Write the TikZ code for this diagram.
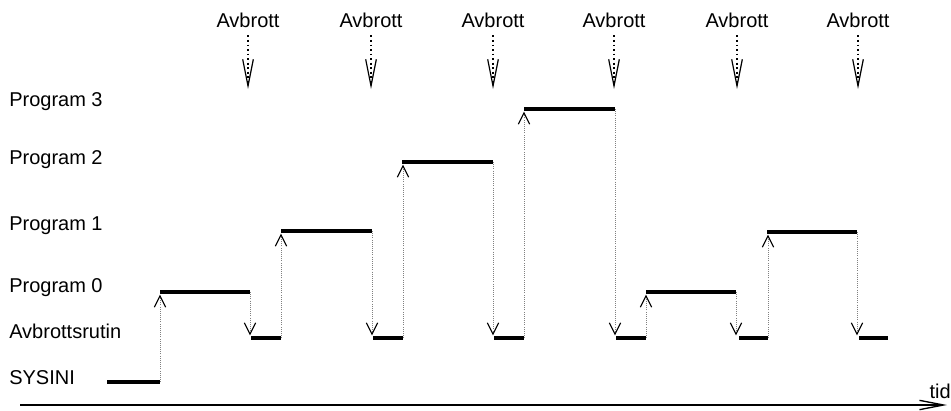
\documentclass[tikz,border=0pt]{standalone}
\usepackage{fontspec}
\setmainfont{Liberation Sans}
\usetikzlibrary{arrows.meta}

\begin{document}
\begin{tikzpicture}[
        x=0.75pt, y=-0.75pt,      % 1 unita = 1 pixel del riferimento
        font=\fontsize{15}{18}\selectfont,
        lvl/.style={anchor=base west, inner sep=0pt},   % nomi dei livelli
        irqtext/.style={anchor=base, inner sep=3pt},    % testo "Avbrott"
        bar/.style={line width=3pt},                    % tratto di esecuzione
        trans/.style={gray, line width=0.6pt, densely dotted,
            -{Straight Barb[length=8.5pt, width=8.5pt, color=black, line width=0.8pt]},
            shorten >=2pt},
        irq/.style={black, line width=1.4pt, dotted, shorten <=3pt,
            -{Straight Barb[length=20pt, width=8pt, line width=0.9pt]}},
        axis/.style={line width=1.4pt,
            -{Straight Barb[length=18pt, width=7pt, line width=1pt]}}
    ]
    \useasboundingbox (0,0) rectangle (951,411);

    % --- Livelli ---
    \node[lvl] (lbl-p3)  at (9,106) {Program 3};
    \node[lvl] (lbl-p2)  at (9,164) {Program 2};
    \node[lvl] (lbl-p1)  at (9,230) {Program 1};
    \node[lvl] (lbl-p0)  at (9,292) {Program 0};
    \node[lvl] (lbl-ar)  at (9,338) {Avbrottsrutin};
    \node[lvl] (lbl-sys) at (9,384) {SYSINI};

    % --- Avbrott ---
    \node[irqtext] (irq1) at (248,27) {Avbrott};
    \node[irqtext] (irq2) at (371,27) {Avbrott};
    \node[irqtext] (irq3) at (493,27) {Avbrott};
    \node[irqtext] (irq4) at (614,27) {Avbrott};
    \node[irqtext] (irq5) at (737,27) {Avbrott};
    \node[irqtext] (irq6) at (858,27) {Avbrott};
    \coordinate (tip1) at (248,89);
    \coordinate (tip2) at (371,89);
    \coordinate (tip3) at (493,89);
    \coordinate (tip4) at (614,89);
    \coordinate (tip5) at (737,89);
    \coordinate (tip6) at (858,89);
    \draw[irq] (irq1) -- (tip1);
    \draw[irq] (irq2) -- (tip2);
    \draw[irq] (irq3) -- (tip3);
    \draw[irq] (irq4) -- (tip4);
    \draw[irq] (irq5) -- (tip5);
    \draw[irq] (irq6) -- (tip6);

    % --- Tratti di esecuzione ---
    \coordinate (sys-a) at (107,382);  \coordinate (sys-b) at (160,382);
    \coordinate (p0a-a) at (160,292);  \coordinate (p0a-b) at (250,292);
    \coordinate (ar1-a) at (251,338);  \coordinate (ar1-b) at (281,338);
    \coordinate (p1a-a) at (281,231);  \coordinate (p1a-b) at (372,231);
    \coordinate (ar2-a) at (373,338);  \coordinate (ar2-b) at (403,338);
    \coordinate (p2-a)  at (402,162);  \coordinate (p2-b)  at (493,162);
    \coordinate (ar3-a) at (494,338);  \coordinate (ar3-b) at (524,338);
    \coordinate (p3-a)  at (524,109);  \coordinate (p3-b)  at (615,109);
    \coordinate (ar4-a) at (616,338);  \coordinate (ar4-b) at (646,338);
    \coordinate (p0b-a) at (646,292);  \coordinate (p0b-b) at (736,292);
    \coordinate (ar5-a) at (739,338);  \coordinate (ar5-b) at (768,338);
    \coordinate (p1b-a) at (767,232);  \coordinate (p1b-b) at (857,232);
    \coordinate (ar6-a) at (859,338);  \coordinate (ar6-b) at (888,338);

    \draw[bar] (sys-a) -- (sys-b);
    \draw[bar] (p0a-a) -- (p0a-b);
    \draw[bar] (ar1-a) -- (ar1-b);
    \draw[bar] (p1a-a) -- (p1a-b);
    \draw[bar] (ar2-a) -- (ar2-b);
    \draw[bar] (p2-a)  -- (p2-b);
    \draw[bar] (ar3-a) -- (ar3-b);
    \draw[bar] (p3-a)  -- (p3-b);
    \draw[bar] (ar4-a) -- (ar4-b);
    \draw[bar] (p0b-a) -- (p0b-b);
    \draw[bar] (ar5-a) -- (ar5-b);
    \draw[bar] (p1b-a) -- (p1b-b);
    \draw[bar] (ar6-a) -- (ar6-b);

    % --- Passaggi (frecce punteggiate) ---
    \draw[trans] (sys-b) -- (sys-b |- p0a-a);
    \draw[trans] (p0a-b) -- (p0a-b |- ar1-a);
    \draw[trans] (ar1-b) -- (ar1-b |- p1a-a);
    \draw[trans] (p1a-b) -- (p1a-b |- ar2-a);
    \draw[trans] (ar2-b) -- (ar2-b |- p2-a);
    \draw[trans] (p2-b)  -- (p2-b |- ar3-a);
    \draw[trans] (ar3-b) -- (ar3-b |- p3-a);
    \draw[trans] (p3-b)  -- (p3-b |- ar4-a);
    \draw[trans] (ar4-b) -- (ar4-b |- p0b-a);
    \draw[trans] (p0b-b) -- (p0b-b |- ar5-a);
    \draw[trans] (ar5-b) -- (ar5-b |- p1b-a);
    \draw[trans] (p1b-b) -- (p1b-b |- ar6-a);

    % --- Asse del tempo ---
    \coordinate (t-start) at (20,405);
    \coordinate (t-end)   at (947,405);
    \draw[axis] (t-start) -- (t-end);
    \node[anchor=base east, inner sep=0pt] (tid) at (951,398) {tid};

\end{tikzpicture}
\end{document}
